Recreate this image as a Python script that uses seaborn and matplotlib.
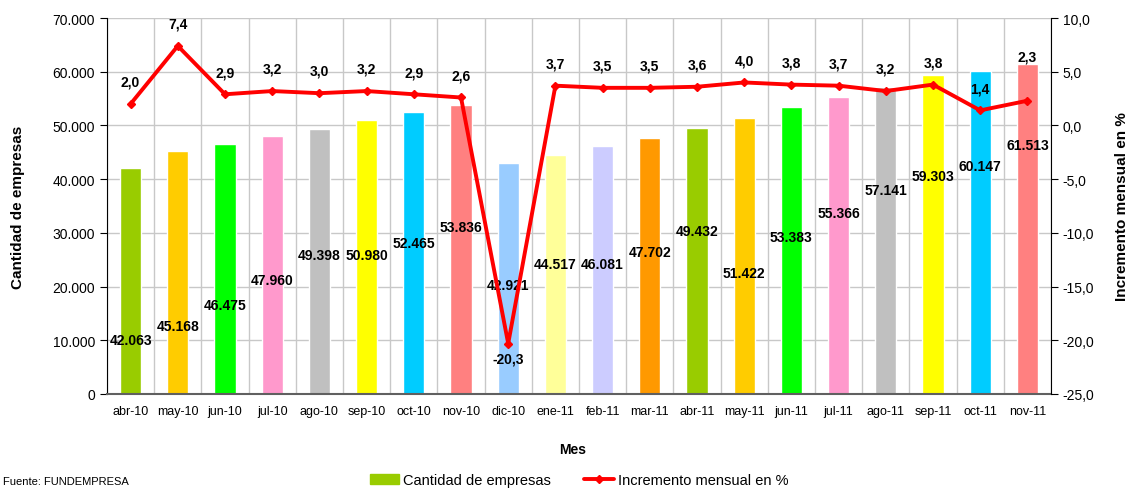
import matplotlib
matplotlib.use("Agg")
import matplotlib.pyplot as plt
import seaborn as sns
import pandas as pd
import numpy as np
from matplotlib.patches import Patch
from matplotlib.lines import Line2D
from matplotlib.ticker import FuncFormatter, MultipleLocator, FixedLocator

# datos
meses = ["abr-10", "may-10", "jun-10", "jul-10", "ago-10", "sep-10", "oct-10", "nov-10",
         "dic-10", "ene-11", "feb-11", "mar-11", "abr-11", "may-11", "jun-11", "jul-11",
         "ago-11", "sep-11", "oct-11", "nov-11"]
empresas = [42063, 45168, 46475, 47960, 49398, 50980, 52465, 53836, 42921, 44517,
            46081, 47702, 49432, 51422, 53383, 55366, 57141, 59303, 60147, 61513]
incremento = [2.0, 7.4, 2.9, 3.2, 3.0, 3.2, 2.9, 2.6, -20.3, 3.7,
              3.5, 3.5, 3.6, 4.0, 3.8, 3.7, 3.2, 3.8, 1.4, 2.3]
colores = ["#99CC00", "#FFCC00", "#00FF00", "#FF99CC", "#C0C0C0", "#FFFF00", "#00CCFF", "#FF8080",
           "#99CCFF", "#FFFF99", "#CCCCFF", "#FF9900", "#99CC00", "#FFCC00", "#00FF00", "#FF99CC",
           "#C0C0C0", "#FFFF00", "#00CCFF", "#FF8080"]

# altura de las etiquetas de barras (movidas a mano en el original)
pos_etq = [10000, 12700, 16600, 21200, 25900, 25900, 28100, 31100, 20300, 24200,
           24200, 26400, 30300, 22500, 29200, 33700, 38000, 40600, 42400, 46400]
# desplazamiento (pt) de las etiquetas de la linea
desp_linea = [16] * 20
desp_linea[8] = -11
desp_linea[19] = 32


def miles(v, pos=None):
    return f"{v:,.0f}".replace(",", ".")


def decimal(v, pos=None):
    return f"{v:.1f}".replace(".", ",")


sns.set_style("white")
plt.rcParams["font.family"] = ["Liberation Sans", "DejaVu Sans"]
plt.rcParams["text.color"] = "black"
plt.rcParams["xtick.color"] = "black"
plt.rcParams["ytick.color"] = "black"

fig = plt.figure(figsize=(11.33, 4.89), dpi=100)
ax = fig.add_axes([107 / 1133, 1 - 395 / 489, (1051 - 107) / 1133, (395 - 19) / 489])

df = pd.DataFrame({"Mes": meses, "Empresas": empresas})
sns.barplot(data=df, x="Mes", y="Empresas", hue="Mes", palette=colores, legend=False,
            width=0.45, saturation=1, ax=ax)

ax.set_ylim(0, 70000)
ax.set_xlim(-0.5, 19.5)
ax.yaxis.set_major_locator(MultipleLocator(10000))
ax.yaxis.set_major_formatter(FuncFormatter(miles))
ax.xaxis.set_minor_locator(FixedLocator(np.arange(-0.5, 20, 1)))
ax.set_axisbelow(True)
ax.grid(axis="y", color="#C8C8C8", lw=1)
ax.grid(axis="x", which="minor", color="#C8C8C8", lw=1)
ax.tick_params(axis="x", which="major", length=0, labelsize=9, pad=8)
ax.tick_params(axis="x", which="minor", length=5, direction="inout", color="#404040")
ax.tick_params(axis="y", length=5, direction="out", left=True, labelsize=10)
ax.set_xlabel("")
ax.set_ylabel("")
ax.spines["top"].set_visible(False)
ax.spines["right"].set_visible(False)
ax.spines["left"].set_color("black")
ax.spines["bottom"].set_color("#606060")
ax.spines["bottom"].set_linewidth(1.5)

for i, v in enumerate(empresas):
    ax.text(i, pos_etq[i], miles(v), ha="center", va="center", fontsize=10, fontweight="bold")

ax2 = ax.twinx()
x = np.arange(len(meses))
ax2.plot(x, incremento, color="#FF0000", lw=2.8, marker="D", ms=4, zorder=5)
ax2.set_ylim(-25, 10)
ax2.yaxis.set_major_locator(MultipleLocator(5))
ax2.yaxis.set_major_formatter(FuncFormatter(decimal))
ax2.tick_params(axis="y", length=5, direction="out", right=True, labelsize=10)
ax2.spines["top"].set_visible(False)
ax2.spines["left"].set_visible(False)
ax2.spines["bottom"].set_visible(False)
ax2.spines["right"].set_color("black")
ax2.grid(False)

for i, v in enumerate(incremento):
    ax2.annotate(decimal(v), (i, v), xytext=(0, desp_linea[i]), textcoords="offset points",
                 ha="center", va="center", fontsize=10, fontweight="bold")

fig.text(18 / 1133, 1 - 207 / 489, "Cantidad de empresas", rotation=90, ha="center", va="center",
         fontsize=11, fontweight="bold")
fig.text(1122 / 1133, 1 - 207 / 489, "Incremento mensual en %", rotation=90, ha="center", va="center",
         fontsize=11, fontweight="bold")
fig.text(573 / 1133, 1 - 450 / 489, "Mes", ha="center", va="center", fontsize=10, fontweight="bold")
fig.text(0.003, 0.004, "Fuente: FUNDEMPRESA", ha="left", va="bottom", fontsize=8)

handles = [Patch(color="#99CC00", label="Cantidad de empresas"),
           Line2D([], [], color="#FF0000", lw=2.8, marker="D", ms=4, label="Incremento mensual en %")]
fig.legend(handles=handles, loc="center", ncol=2, bbox_to_anchor=(579 / 1133, 1 - 481 / 489),
           frameon=False, fontsize=10.5, columnspacing=2.3, handlelength=2.0, handletextpad=0.3,
           borderpad=0)

fig.savefig("out.png", dpi=100)
